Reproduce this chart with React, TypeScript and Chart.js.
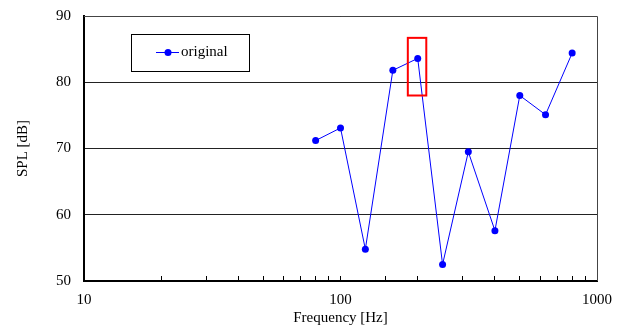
import React, { useEffect, useRef } from "react";
import { Chart, registerables } from "chart.js";

Chart.register(...registerables);

const frequencies = [80, 100, 125, 160, 200, 250, 315, 400, 500, 630, 800];
const splOriginal = [71.2, 73.1, 54.8, 81.8, 83.6, 52.5, 69.5, 57.6, 78.0, 75.1, 84.4];
const xTickLabels = [10, 100, 1000];
const yTickValues = [50, 60, 70, 80, 90];
const highlightFreq = [183, 216];
const highlightSpl = [78.0, 86.7];

const FONT = "'Liberation Serif', 'Times New Roman', serif";

const overlayPlugin = {
  id: "overlay",
  afterDatasetsDraw(chart: any) {
    const { ctx, chartArea, scales } = chart;
    const x = scales.x;
    const y = scales.y;
    ctx.save();
    ctx.strokeStyle = "#444";
    ctx.lineWidth = 1;
    ctx.beginPath();
    ctx.moveTo(chartArea.left, chartArea.top + 0.5);
    ctx.lineTo(chartArea.right + 0.5, chartArea.top + 0.5);
    ctx.lineTo(chartArea.right + 0.5, chartArea.bottom);
    ctx.stroke();

    const x1 = x.getPixelForValue(highlightFreq[0]);
    const x2 = x.getPixelForValue(highlightFreq[1]);
    const y1 = y.getPixelForValue(highlightSpl[1]);
    const y2 = y.getPixelForValue(highlightSpl[0]);
    ctx.strokeStyle = "#ff0000";
    ctx.lineWidth = 2;
    ctx.strokeRect(x1, y1, x2 - x1, y2 - y1);

    const bx = chartArea.left + 47;
    const by = chartArea.top + 18;
    const bw = 118;
    const bh = 37;
    ctx.strokeStyle = "#000";
    ctx.lineWidth = 1;
    ctx.fillStyle = "#fff";
    ctx.fillRect(bx, by, bw, bh);
    ctx.strokeRect(bx + 0.5, by + 0.5, bw, bh);
    const ly = by + 18.5;
    ctx.strokeStyle = "#0000ff";
    ctx.beginPath();
    ctx.moveTo(bx + 25, ly);
    ctx.lineTo(bx + 48, ly);
    ctx.stroke();
    ctx.fillStyle = "#0000ff";
    ctx.beginPath();
    ctx.arc(bx + 37, ly, 3.5, 0, Math.PI * 2);
    ctx.fill();
    ctx.fillStyle = "#000";
    ctx.font = `15px ${FONT}`;
    ctx.textBaseline = "middle";
    ctx.textAlign = "left";
    ctx.fillText(chart.data.datasets[0].label, bx + 50, ly);
    ctx.restore();
  },
};

export default function App() {
  const ref = useRef<HTMLCanvasElement>(null);
  useEffect(() => {
    document.body.style.margin = "0";
    const chart = new Chart(ref.current as HTMLCanvasElement, {
      type: "line",
      data: {
        datasets: [
          {
            label: "original",
            data: frequencies.map((f, i) => ({ x: f, y: splOriginal[i] })),
            borderColor: "#0000ff",
            backgroundColor: "#0000ff",
            borderWidth: 1,
            pointRadius: 3.5,
            pointBorderWidth: 0,
            pointBackgroundColor: "#0000ff",
            tension: 0,
          },
        ],
      },
      options: {
        animation: false,
        responsive: true,
        maintainAspectRatio: false,
        layout: { padding: { top: 16, right: 30, left: 0, bottom: 0 } },
        plugins: {
          legend: { display: false },
          tooltip: { enabled: false },
        },
        scales: {
          x: {
            type: "logarithmic",
            min: 10,
            max: 1000,
            afterFit: (s: any) => {
              s.height = 48;
              s.paddingLeft = 0;
              s.paddingRight = 0;
            },
            grid: {
              display: true,
              drawOnChartArea: false,
              drawTicks: true,
              tickLength: -5,
              color: "#000",
              lineWidth: 1,
            },
            border: { display: true, color: "#000", width: 2 },
            ticks: {
              autoSkip: false,
              maxRotation: 0,
              padding: 15,
              color: "#000",
              font: { family: FONT, size: 15 },
              callback: (v: any) => (xTickLabels.includes(Number(v)) ? String(v) : ""),
            },
            title: {
              display: true,
              text: "Frequency [Hz]",
              color: "#000",
              font: { family: FONT, size: 15 },
              padding: { top: 0, bottom: 2 },
            },
          },
          y: {
            type: "linear",
            min: 50,
            max: 90,
            afterFit: (s: any) => {
              s.width = 84;
              s.paddingTop = 0;
              s.paddingBottom = 0;
            },
            afterBuildTicks: (s: any) => {
              s.ticks = yTickValues.map((v) => ({ value: v }));
            },
            grid: {
              display: true,
              drawTicks: false,
              color: "#222",
              lineWidth: 1,
            },
            border: { display: true, color: "#000", width: 2 },
            ticks: {
              padding: 13,
              color: "#000",
              font: { family: FONT, size: 15 },
            },
            title: {
              display: true,
              text: "SPL [dB]",
              color: "#000",
              font: { family: FONT, size: 15 },
              padding: { top: 14, bottom: 0 },
            },
          },
        },
      },
      plugins: [overlayPlugin],
    });
    return () => chart.destroy();
  }, []);
  return (
    <div style={{ position: "relative", width: 627, height: 329 }}>
      <canvas ref={ref} />
    </div>
  );
}
